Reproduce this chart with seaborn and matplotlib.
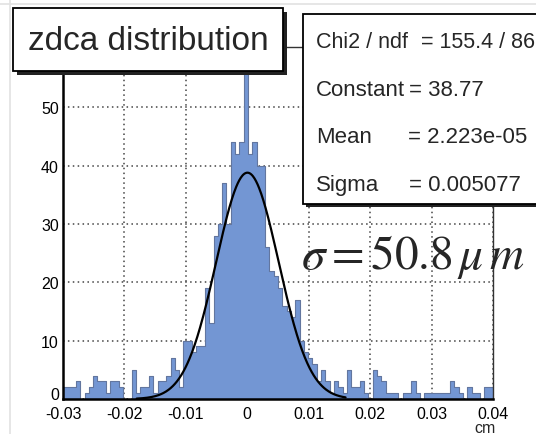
import numpy as np
import pandas as pd
import matplotlib
matplotlib.use("Agg")
import matplotlib.pyplot as plt
import matplotlib.transforms as mtransforms
import seaborn as sns
from matplotlib.patches import Rectangle
from matplotlib.lines import Line2D
from matplotlib.ticker import MultipleLocator

# histogram: 100 bins from -0.03 to 0.04 cm
x_lo, x_hi, n_bins = -0.03, 0.04, 100
counts = [
    2, 2, 2, 3, 0, 1, 2, 4, 3, 3,
    1, 3, 3, 2, 0, 0, 5, 1, 2, 2,
    4, 1, 3, 3, 4, 7, 5, 2, 10, 10,
    8, 9, 9, 19, 13, 28, 30, 37, 30, 44,
    42, 44, 57, 42, 44, 40, 40, 26, 22, 21,
    19, 16, 15, 14, 17, 10, 8, 7, 6, 3,
    5, 3, 1, 3, 2, 1, 5, 2, 2, 3,
    1, 0, 5, 4, 3, 1, 1, 1, 0, 1,
    1, 3, 1, 0, 1, 1, 1, 1, 1, 1,
    3, 2, 1, 0, 2, 1, 1, 0, 2, 2,
]

# gaussian fit parameters (from the stats box)
fit_const = 38.77
fit_mean = 2.223e-05
fit_sigma = 0.005077
fit_range = (-0.018, 0.016)

x_ticks = [-0.03, -0.02, -0.01, 0.0, 0.01, 0.02, 0.03, 0.04]
x_ticklabels = ["-0.03", "-0.02", "-0.01", "0", "0.01", "0.02", "0.03", "0.04"]
y_ticks = [0, 10, 20, 30, 40, 50]

stat_names = ["Chi2 / ndf", "Constant", "Mean", "Sigma"]
stat_values = ["= 155.4 / 86", "= 38.77", "= 2.223e-05", "= 0.005077"]

W, H = 536, 435


def fx(x):
    return x / W


def fy(y):
    return 1 - y / H


def main():
    sns.set_style("white")
    plt.rcParams["font.family"] = ["Liberation Sans", "DejaVu Sans"]
    plt.rcParams["mathtext.fontset"] = "stix"

    width = (x_hi - x_lo) / n_bins
    centers = x_lo + width * (np.arange(n_bins) + 0.5)
    df = pd.DataFrame({"zdca": centers, "n": counts})

    fig = plt.figure(figsize=(W / 100, H / 100), dpi=100)
    ax = fig.add_axes([fx(63), fy(400), (493 - 63) / W, (400 - 48) / H])

    sns.histplot(data=df, x="zdca", weights="n", bins=n_bins, binrange=(x_lo, x_hi),
                 element="step", fill=True, color="#7396d3", alpha=1.0,
                 edgecolor="#62769f", linewidth=0.8, ax=ax, zorder=2)

    xs = np.linspace(fit_range[0], fit_range[1], 400)
    ys = fit_const * np.exp(-0.5 * ((xs - fit_mean) / fit_sigma) ** 2)
    sns.lineplot(x=xs, y=ys, color="black", linewidth=1.6, ax=ax, zorder=4)

    ax.set_xlim(x_lo, x_hi)
    ax.set_ylim(0, 60.3)
    ax.set_xticks(x_ticks)
    ax.set_xticklabels(x_ticklabels)
    ax.xaxis.set_minor_locator(MultipleLocator(0.005))
    ax.set_yticks(y_ticks)
    ax.yaxis.set_minor_locator(MultipleLocator(2))
    ax.tick_params(which="major", direction="in", length=9, width=1.3, labelsize=11.5,
                   colors="black", pad=3)
    ax.tick_params(which="minor", direction="in", length=5, width=1.1)
    ax.tick_params(axis="x", which="major", pad=5)
    ax.set_xlabel("")
    ax.set_ylabel("")

    # ROOT lifts the zero label a little
    ylabs = ax.get_yticklabels()
    ylabs[0].set_transform(ylabs[0].get_transform() +
                           mtransforms.ScaledTranslation(0, 4 / 72, fig.dpi_scale_trans))

    ax.grid(True, which="major", linestyle=(0, (1, 2.2)), color="#444444", linewidth=1.1)
    for side in ["left", "bottom"]:
        ax.spines[side].set_linewidth(1.8)
        ax.spines[side].set_color("black")
    for side in ["top", "right"]:
        ax.spines[side].set_linewidth(1.0)
        ax.spines[side].set_color("#333333")
    for gl in ax.get_xgridlines() + ax.get_ygridlines():
        gl.set_zorder(3)

    fig.text(fx(485), fy(421), "cm", fontsize=11.5, ha="center", va="top")

    # faint canvas frame
    fig.add_artist(Line2D([fx(0), fx(W)], [fy(5), fy(5)], color="#e2e2e2", lw=1.2))
    fig.add_artist(Line2D([fx(10), fx(10)], [fy(0), fy(H)], color="#e2e2e2", lw=1.2))

    # title box with shadow
    fig.add_artist(Rectangle((fx(17), fy(76)), (283 - 13) / W, (72 - 9) / H,
                             facecolor="#222222", edgecolor="none", zorder=5))
    fig.add_artist(Rectangle((fx(13), fy(72)), (283 - 13) / W, (72 - 9) / H,
                             facecolor="white", edgecolor="black", lw=1.3, zorder=6))
    fig.text(fx(148), fy(42), "zdca distribution", fontsize=24, ha="center", va="center",
             zorder=7)

    # stats box with shadow (runs off the right edge, as in the original)
    fig.add_artist(Rectangle((fx(306), fy(208)), (560 - 303) / W, (205 - 15) / H,
                             facecolor="#222222", edgecolor="none", zorder=5))
    fig.add_artist(Rectangle((fx(303), fy(205)), (560 - 303) / W, (205 - 15) / H,
                             facecolor="white", edgecolor="black", lw=1.3, zorder=6))
    rows_y = [43, 91, 138, 186]
    val_x = [421, 409, 408, 409]
    row_size = [15.5, 16, 16, 16]
    for name, val, yy, vx, fs in zip(stat_names, stat_values, rows_y, val_x, row_size):
        fig.text(fx(316), fy(yy), name, fontsize=fs, ha="left", va="center", zorder=7)
        fig.text(fx(vx), fy(yy), val, fontsize=fs, ha="left", va="center", zorder=7)

    fig.text(fx(301), fy(257), r"$\sigma = 50.8\,\mu\,m$", fontsize=34, ha="left",
             va="center", zorder=7)

    fig.savefig("out.png", dpi=100)


if __name__ == "__main__":
    main()
